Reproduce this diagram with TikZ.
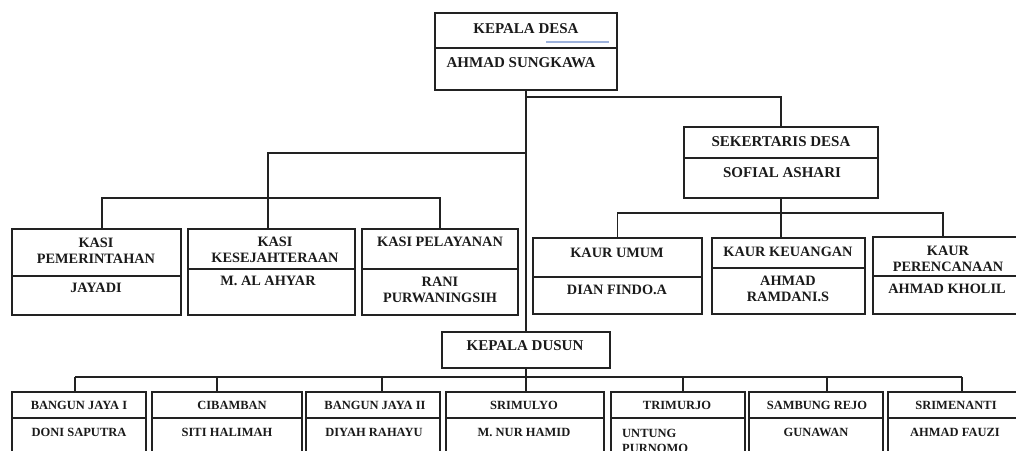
\documentclass[tikz,border=0pt]{standalone}
\usepackage{fontspec}
\setmainfont{Liberation Serif}
\definecolor{linec}{HTML}{222222}
\definecolor{txtc}{HTML}{1A1A1A}
\definecolor{spell}{HTML}{9DB2DC}
\newcommand{\obox}[6]{%
  \node[box, minimum width={#4-#2}, minimum height={#5-#3}] (#1) at ({(#2+#4)/2},{(#3+#5)/2}) {};
  \ifx&#6&\else\draw[boxline] (#2,#6) -- (#4,#6);\fi}
\begin{document}
\begin{tikzpicture}[x=1pt,y=-1pt,
  box/.style={draw=linec, line width=2pt, rectangle, inner sep=0pt, outer sep=0pt},
  boxline/.style={draw=linec, line width=2pt},
  conn/.style={draw=linec, line width=1.8pt},
  big/.style={font=\bfseries\fontsize{15}{16.5}\selectfont, text=txtc, inner sep=0pt, align=center},
  mid/.style={font=\bfseries\fontsize{14.3}{16}\selectfont, text=txtc, inner sep=0pt, align=center},
  small/.style={font=\bfseries\fontsize{12.5}{15}\selectfont, text=txtc, inner sep=0pt, align=center}]
\useasboundingbox (0,0) rectangle (1016,450);
\clip (0,0) rectangle (1016,450);
% boxes
\obox{kd}{435}{13}{617}{90}{48}
\obox{sek}{684}{127}{878}{198}{158}
\obox{kasi1}{12}{229}{181}{315}{276}
\obox{kasi2}{188}{229}{355}{315}{269}
\obox{kasi3}{362}{229}{518}{315}{269}
\obox{kaur1}{533}{238}{702}{314}{277}
\obox{kaur2}{712}{238}{865}{314}{268}
\obox{kaur3}{873}{237}{1024}{314}{276}
\obox{kdus}{442}{332}{610}{368}{}
\obox{b1}{12}{392}{146}{470}{418}
\obox{b2}{152}{392}{302}{470}{418}
\obox{b3}{306}{392}{440}{470}{418}
\obox{b4}{446}{392}{604}{470}{418}
\obox{b5}{611}{392}{745}{470}{418}
\obox{b6}{749}{392}{883}{470}{418}
\obox{b7}{888}{392}{1026}{470}{418}
% connectors
\draw[conn] (kd.south) -- (kd.south |- kdus.north);
\coordinate (jr) at (526,97);
\draw[conn] (jr) -| (sek.north);
\coordinate (jl) at (526,153);
\draw[conn] (jl) -| ([xshift=-3.5pt]kasi2.north);
\draw[conn] ([xshift=5.5pt]kasi1.north) -- ++(0,-31) -| (kasi3.north);
\draw[conn] (sek.south) -- (sek.south |- kaur2.north);
\draw[conn] (kaur1.north) -- ++(0,-25) -| ([xshift=-5.5pt]kaur3.north);
\draw[conn] (kdus.south) -- (kdus.south |- b4.north);
\coordinate (bl) at (75,377);
\coordinate (br) at (962,377);
\draw[conn] (bl) -- (br);
\coordinate (d1) at (75,377);
\coordinate (d2) at (217,377);
\coordinate (d3) at (382,377);
\coordinate (d5) at (683,377);
\coordinate (d6) at (827,377);
\coordinate (d7) at (962,377);
\draw[conn] (d1) -- (d1 |- b1.north);
\draw[conn] (d2) -- (d2 |- b2.north);
\draw[conn] (d3) -- (d3 |- b3.north);
\draw[conn] (d5) -- (d5 |- b5.north);
\draw[conn] (d6) -- (d6 |- b6.north);
\draw[conn] (d7) -- (d7 |- b7.north);
% texts
\node[big] (tkd1) at (526,29) {KEPALA DESA};
\coordinate (sp1) at (546,42);
\coordinate (sp2) at (609,42);
\draw[spell, line width=1.2pt] (sp1) -- (sp2);
\node[big] (tkd2) at (521,63) {AHMAD SUNGKAWA};
\node[big] (tsek1) at (781,142) {SEKERTARIS DESA};
\node[big] (tsek2) at (782,173) {SOFIAL ASHARI};
\node[mid] (tk1a) at (96,251) {KASI\\PEMERINTAHAN};
\node[mid] (tk1b) at (96,288) {JAYADI};
\node[mid] (tk2a) at (275,250) {KASI\\KESEJAHTERAAN};
\node[mid] (tk2b) at (268,281) {M. AL AHYAR};
\node[mid] (tk3a) at (440,242) {KASI PELAYANAN};
\node[mid] (tk3b) at (440,290) {RANI\\PURWANINGSIH};
\node[mid] (tu1a) at (617,253) {KAUR UMUM};
\node[mid] (tu1b) at (617,290) {DIAN FINDO.A};
\node[mid] (tu2a) at (788,252) {KAUR KEUANGAN};
\node[mid] (tu2b) at (788,289) {AHMAD\\RAMDANI.S};
\node[mid] (tu3a) at (948,259) {KAUR\\PERENCANAAN};
\node[mid] (tu3b) at (947,289) {AHMAD KHOLIL};
\node[big] (tdus) at (525,346) {KEPALA DUSUN};
\node[small] (tb1a) at (79,405) {BANGUN JAYA I};
\node[small] (tb1b) at (79,432) {DONI SAPUTRA};
\node[small] (tb2a) at (232,405) {CIBAMBAN};
\node[small] (tb2b) at (227,432) {SITI HALIMAH};
\node[small] (tb3a) at (375,405) {BANGUN JAYA II};
\node[small] (tb3b) at (374,432) {DIYAH RAHAYU};
\node[small] (tb4a) at (524,405) {SRIMULYO};
\node[small] (tb4b) at (524,432) {M. NUR HAMID};
\node[small] (tb5a) at (677,405) {TRIMURJO};
\node[small, align=left, anchor=north west] (tb5b) at (622,429) {UNTUNG\\PURNOMO};
\node[small] (tb6a) at (817,405) {SAMBUNG REJO};
\node[small] (tb6b) at (816,432) {GUNAWAN};
\node[small] (tb7a) at (956,405) {SRIMENANTI};
\node[small] (tb7b) at (955,432) {AHMAD FAUZI};
\end{tikzpicture}
\end{document}
